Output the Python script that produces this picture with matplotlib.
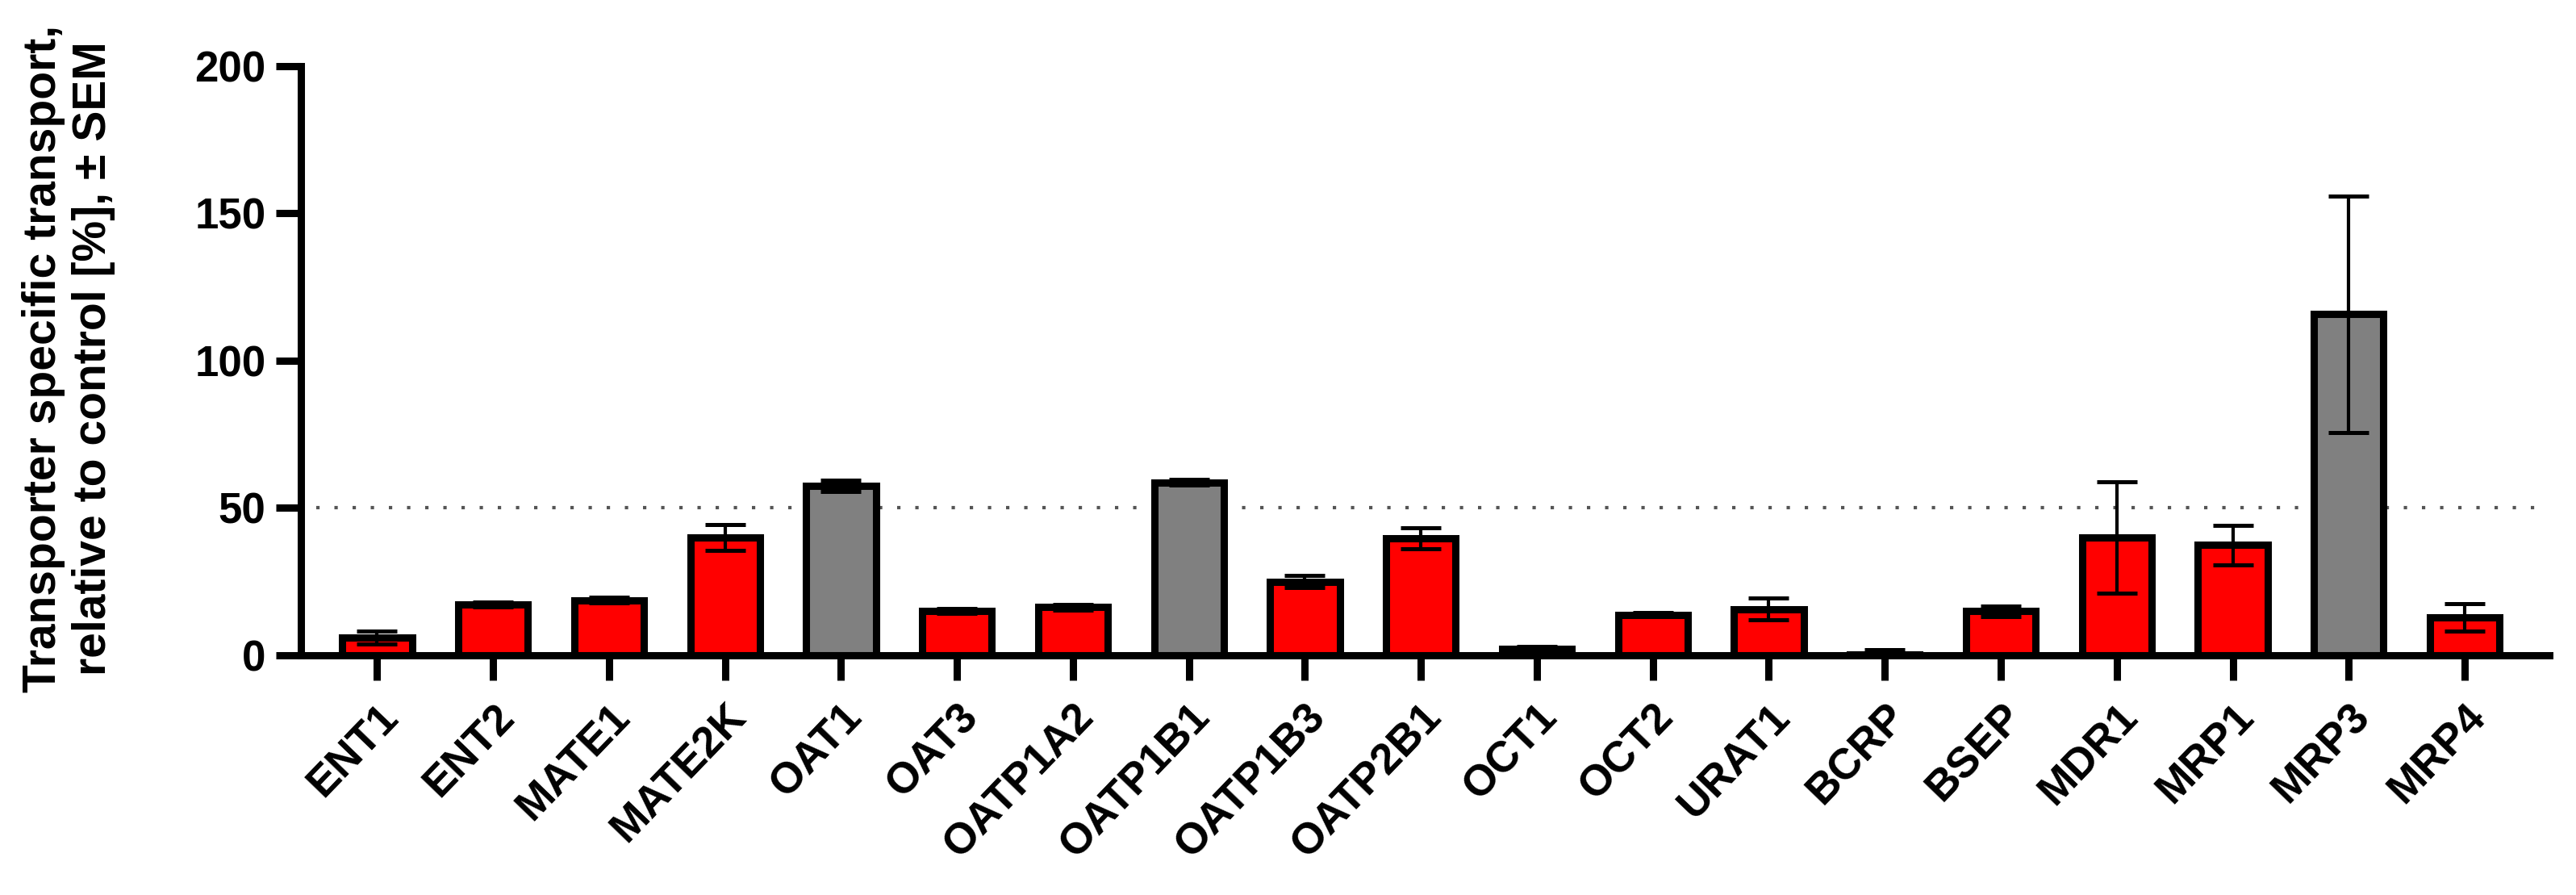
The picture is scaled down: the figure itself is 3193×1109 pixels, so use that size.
import numpy as np
import matplotlib
matplotlib.use("Agg")
import matplotlib.pyplot as plt
import matplotlib.transforms as mtransforms

plt.rcParams['font.family'] = ['Liberation Sans', 'DejaVu Sans']
plt.rcParams['font.weight'] = 'bold'

transporters = ['ENT1', 'ENT2', 'MATE1', 'MATE2K', 'OAT1', 'OAT3', 'OATP1A2',
                'OATP1B1', 'OATP1B3', 'OATP2B1', 'OCT1', 'OCT2', 'URAT1', 'BCRP',
                'BSEP', 'MDR1', 'MRP1', 'MRP3', 'MRP4']
mean_pct = [6.0, 17.2, 18.6, 39.8, 57.4, 14.9, 16.2, 58.6, 24.9, 39.6,
            2.0, 13.7, 15.6, 0.2, 14.8, 40.0, 37.3, 115.7, 12.7]
sem_pct = [2.2, 0.8, 1.0, 4.4, 2.0, 0.8, 0.9, 0.9, 2.0, 3.5,
           1.0, 0.8, 3.7, 1.6, 1.9, 18.9, 6.8, 40.2, 4.6]
not_inhibited = ['OAT1', 'OATP1B1', 'MRP3']   # grey bars
threshold = 50

colors = ['#808080' if t in not_inhibited else '#FF0000' for t in transporters]
x = np.arange(len(transporters))

fig = plt.figure(figsize=(31.93, 11.09), dpi=100)
ax = fig.add_axes([372.5 / 3193, 1 - 811.5 / 1109, (3160 - 372.5) / 3193, (811.5 - 81.7) / 1109])

# 50 % line behind the bars
ax.axhline(threshold, xmin=0.007, xmax=0.9935, color='#555555',
           linestyle=(0, (1, 4.4)), linewidth=3, zorder=1)
ax.bar(x, mean_pct, width=0.6, color=colors, edgecolor='black', linewidth=6.5, zorder=2)
ax.errorbar(x, mean_pct, yerr=sem_pct, fmt='none', ecolor='black',
            elinewidth=3, capsize=18, capthick=3.6, zorder=3)

ax.set_xlim(-0.66, 18.73)
ax.set_ylim(0, 200)
ax.set_yticks([0, 50, 100, 150, 200])
ax.set_xticks(x)
ax.set_xticklabels(transporters, rotation=46, ha='right', va='top',
                   rotation_mode='anchor', fontsize=38.5, fontweight='bold')
offset = mtransforms.ScaledTranslation(-0.10, 0, fig.dpi_scale_trans)
for lbl in ax.get_xticklabels():
    lbl.set_transform(lbl.get_transform() + offset)

ax.tick_params(axis='y', length=22, width=6.5, pad=9, labelsize=38)
ax.tick_params(axis='x', length=22, width=6.5, pad=15)
for lbl in ax.get_yticklabels():
    lbl.set_fontweight('bold')

ax.spines['top'].set_visible(False)
ax.spines['right'].set_visible(False)
ax.spines['left'].set_linewidth(6.5)
ax.spines['bottom'].set_linewidth(6.5)

fig.text(85 / 3193, 1 - 444 / 1109,
         'Transporter specific transport,\nrelative to control [%], \u00b1 SEM',
         rotation=90, ha='center', va='center', multialignment='center',
         fontsize=41, fontweight='bold')

fig.savefig('out.png', dpi=100)
